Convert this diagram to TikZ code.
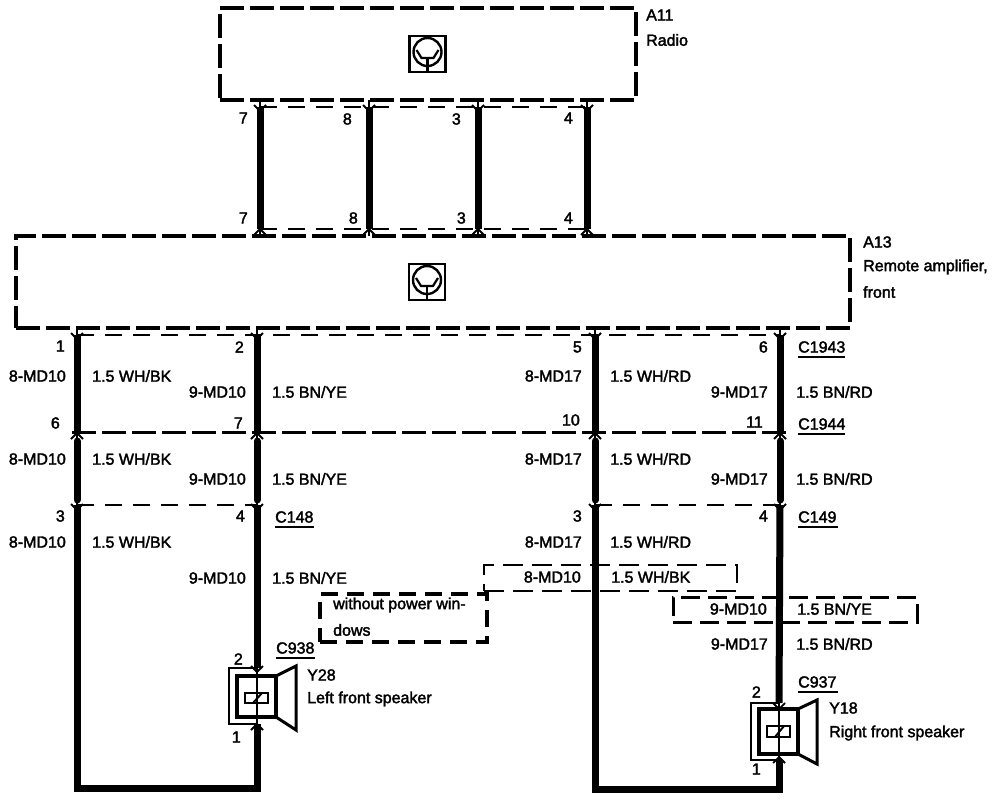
\documentclass[tikz,border=0pt]{standalone}
\usepackage{fontspec}
\setmainfont[FakeBold=2.2]{Liberation Sans}
\tikzset{
 x=1pt,y=-1pt,
 lbl/.style={inner sep=0pt,font=\fontsize{16}{18}\selectfont,text=black},
 lblr/.style={lbl,anchor=east},
 lbll/.style={lbl,anchor=west},
 heavybox/.style={draw=black,line width=3.4pt,dash pattern=on 24pt off 6pt,outer sep=0pt},
 thinbox/.style={draw=black,line width=2pt,dash pattern=on 20pt off 9pt,outer sep=0pt},
 shield/.style={draw=black,line width=2pt,dash pattern=on 17pt off 11pt},
 midbar/.style={draw=black,line width=3pt,dash pattern=on 24pt off 6pt,outer sep=0pt},
 wire/.style={draw=black,line width=7pt},
 slimwire/.style={draw=black,line width=1.4pt},
 splay/.style={draw=black,line width=1.8pt},
 under/.style={draw=black,line width=2pt},
 spk/.style={draw=black,line width=4pt,line join=miter,outer sep=0pt},
 cone/.style={draw=black,line width=3pt,line join=miter},
 lead/.style={draw=black,line width=1.5pt},
}
\newcommand{\forkup}[2]{\draw[splay] (#1-6,#2-2) -- (#1,#2+4) -- (#1+6,#2-2);}
\newcommand{\forkdn}[2]{\draw[splay] (#1-6,#2+3) -- (#1,#2-3) -- (#1+6,#2+3);}
\newcommand{\groundicon}[2]{%
 \draw[black,line width=2.6pt] (#1-18,#2-18) rectangle (#1+18,#2+18);
 \draw[black,line width=2.4pt] (#1,#2-2) circle (14);
 \draw[black,line width=2.2pt] (#1,#2+4) -- (#1,#2+17);
 \draw[black,line width=2.2pt] (#1-11,#2-4) -- (#1-6,#2+4) -- (#1+6,#2+4) -- (#1+11,#2-4);
}
\begin{document}
\begin{tikzpicture}
\useasboundingbox[fill=white] (0,0) rectangle (1008,800);
% modules
\node[heavybox,minimum width=416pt,minimum height=92pt,inner sep=0pt,anchor=north west] (radio) at (220,8) {};
\node[heavybox,minimum width=834pt,minimum height=92pt,inner sep=0pt,anchor=north west] (amp) at (16,236) {};
\groundicon{427.5}{54}
\groundicon{427}{282}
\node[lbll] (a11) at (646,15) {A11};
\node[lbll] (radiot) at (646,40) {Radio};
\node[lbll] (a13) at (863,242) {A13};
\node[lbll] (ampa) at (863,267) {Remote amplifier,};
\node[lbll] (ampb) at (863,292) {front};
% coordinates on the wires
\foreach \n/\x in {a/260,b/369,c/478,d/587}{
 \coordinate (\n top) at (\x,107);
 \coordinate (\n bot) at (\x,229);
 \coordinate (\n box) at (\x,100);
 \coordinate (\n amp) at (\x,236);
}
\foreach \n/\x in {e/77,f/257,g/595,h/780}{
 \coordinate (\n1) at (\x,335);
 \coordinate (\n2) at (\x,432);
 \coordinate (\n3) at (\x,505);
 \coordinate (\n0) at (\x,328);
}
% radio to amp
\draw[shield] (atop) -- (dtop);
\draw[shield] (abot) -- (dbot);
\foreach \n/\x in {a/260,b/369,c/478,d/587}{
 \draw[wire] (\n top) -- (\n bot);
 \draw[slimwire] (\n box) -- (\n top);
 \draw[slimwire] (\n bot) -- (\n amp);
 \forkup{\x}{107}
 \forkdn{\x}{232}
}
% amp to C1944
\draw[shield] (e1) -- (h1);
\draw[midbar] (72,432) -- (788,432);
\foreach \n/\x in {e/77,f/257,g/595,h/780}{
 \draw[wire] (\n1) -- (\n2);
 \draw[slimwire] (\n0) -- (\n1);
 \forkup{\x}{335}
 \draw[wire,line cap=round] (\x,441) -- (\x,500);
 \draw[slimwire] (\n2) -- (\n3);
 \forkdn{\x}{436}
 \forkup{\x}{506}
}
\draw[shield] (e3) -- (f3);
\draw[shield] (g3) -- (h3);
% speakers
\coordinate (lspin) at (257,668);
\coordinate (lspout) at (257,724);
\coordinate (lcorner) at (257,788);
\coordinate (ecorner) at (77,788);
\coordinate (rspin) at (779,703);
\coordinate (rspout) at (779,760);
\coordinate (rcorner) at (779,789);
\coordinate (gcorner) at (595,789);
\draw[wire,line join=miter] (f3) -- (lspin);
\draw[wire,line join=miter] (lspout) -- (lcorner) -- (ecorner) -- (e3);
\draw[wire,line join=miter] (h3) -- (rspin);
\draw[wire,line join=miter] (rspout) -- (rcorner) -- (gcorner) -- (g3);
\forkup{257}{668}
\forkdn{257}{727}
\forkup{779}{705}
\forkdn{779}{760}
% left speaker
\draw[lead] (257,668) -- (229,668) -- (229,724) -- (257,724);
\draw[lead] (257,668) -- (257,724);
\node[spk,minimum width=39pt,minimum height=41pt,inner sep=0pt,anchor=north west] (lsp) at (237,676) {};
\draw[cone] (lsp.north east) -- (296,666) -- (296,730) -- (lsp.south east);
\draw[draw=black,line width=2pt] (245,693) rectangle (268,703);
\draw[draw=black,line width=2pt] (253,703) -- (262,693);
% right speaker
\draw[lead] (779,703) -- (751,703) -- (751,760) -- (779,760);
\draw[lead] (779,703) -- (779,760);
\node[spk,minimum width=39pt,minimum height=45pt,inner sep=0pt,anchor=north west] (rsp) at (759,709) {};
\draw[cone] (rsp.north east) -- (817,700) -- (817,764) -- (rsp.south east);
\draw[draw=black,line width=2pt] (767,726) rectangle (790,737);
\draw[draw=black,line width=2pt] (775,737) -- (784,726);
% conditional boxes
\node[heavybox,minimum width=167pt,minimum height=48pt,inner sep=0pt,anchor=north west,dash pattern=on 17pt off 9pt] (nowin) at (320,594) {};
\node[thinbox,minimum width=253pt,minimum height=26pt,inner sep=0pt,anchor=north west] (wb) at (484,565) {};
\node[midbar,minimum width=244pt,minimum height=25pt,inner sep=0pt,anchor=north west,dash pattern=on 19pt off 8pt] (by) at (673,597) {};
% pins upper
\foreach \t/\x/\y/\k in {7/248/118/p1,8/352/119/p2,3/461/119/p3,4/573/118/p4,7/248/218/p5,8/358/218/p6,3/466/218/p7,4/573/218/p8,1/65/346/p9,2/244/347/p10,5/582/347/p11,6/768/347/p12,6/60/423/p13,7/243/423/p14,10/580/420/p15,11/763/422/p16,3/65/516/p17,4/245/516/p18,3/582/516/p19,4/768/516/p20,2/243/659/p21,1/241/737/p22,2/761/692/p23,1/761/769/p24}{
 \node[lblr] (\k) at (\x,\y) {\t};
}
% gauge labels
\foreach \t/\x/\y/\k in {
 8-MD10/66/376/g1,8-MD10/66/459/g2,8-MD10/66/542/g3,
 9-MD10/246/392/g4,9-MD10/246/479/g5,9-MD10/246/578/g6,
 8-MD17/582/376/g7,8-MD17/582/459/g8,8-MD17/582/542/g9,
 9-MD17/768/392/g10,9-MD17/768/479/g11,9-MD17/768/644/g12,
 8-MD10/581/577/g13,9-MD10/767/609/g14}{
 \node[lblr] (\k) at (\x,\y) {\t};
}
\foreach \t/\x/\y/\k in {
 {1.5 WH/BK}/92/376/h1,{1.5 WH/BK}/92/459/h2,{1.5 WH/BK}/92/542/h3,
 {1.5 BN/YE}/272/392/h4,{1.5 BN/YE}/272/479/h5,{1.5 BN/YE}/272/578/h6,
 {1.5 WH/RD}/610/376/h7,{1.5 WH/RD}/610/459/h8,{1.5 WH/RD}/610/542/h9,
 {1.5 BN/RD}/796/392/h10,{1.5 BN/RD}/796/479/h11,{1.5 BN/RD}/796/644/h12,
 {1.5 WH/BK}/611/577/h13,{1.5 BN/YE}/797/609/h14}{
 \node[lbll] (\k) at (\x,\y) {\t};
}
% connectors with underline
\foreach \t/\x/\y/\w/\k in {C1943/798/347/47/c1,C1944/798/424/47/c2,C148/275/517/39/c3,C149/798/517/40/c4,C938/276/648/39/c5,C937/798/682/40/c6}{
 \node[lbll] (\k) at (\x,\y) {\t};
 \draw[under] (\x,\y+10) -- (\x+\w,\y+10);
}
\node[lbll] (wpw1) at (333,605) {without power win-};
\node[lbll] (wpw2) at (333,630) {dows};
\node[lbll] (y28) at (307,675) {Y28};
\node[lbll] (y28t) at (307,699) {Left front speaker};
\node[lbll] (y18) at (829,708) {Y18};
\node[lbll] (y18t) at (829,733) {Right front speaker};
\end{tikzpicture}
\end{document}
